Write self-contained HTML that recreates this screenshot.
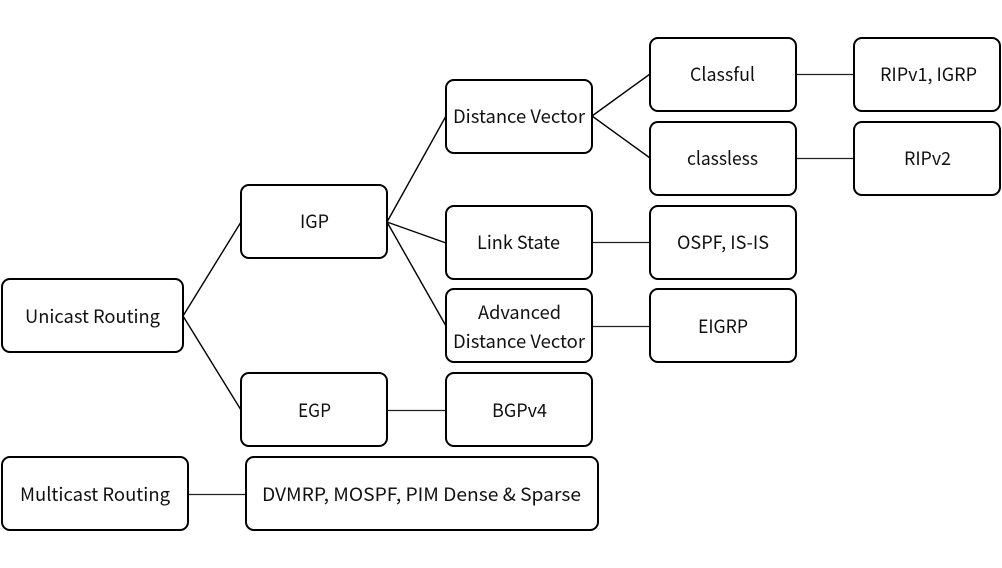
<!DOCTYPE html>
<html>
<head>
<meta charset="utf-8">
<style>
html,body{margin:0;padding:0;background:#fff;}
svg{display:block;}
text{font-family:"Noto Sans CJK KR","NanumGothic","Liberation Sans",sans-serif;font-size:18.500px;fill:#111;text-anchor:middle;}
rect{fill:#fff;stroke:#000;stroke-width:2;}
line{stroke:#000;stroke-width:1.4;}
line.h{stroke:#222;stroke-width:1.200;}
</style>
</head>
<body>
<svg width="1002" height="568" viewBox="0 0 1002 568" xmlns="http://www.w3.org/2000/svg">
<line x1="183" y1="316" x2="241" y2="222"/>
<line x1="183" y1="316" x2="241" y2="410"/>
<line x1="387" y1="222" x2="446" y2="116"/>
<line x1="387" y1="222" x2="446" y2="243"/>
<line x1="387" y1="222" x2="446" y2="326"/>
<line class="h" x1="387" y1="410.500" x2="446" y2="410.500"/>
<line x1="592" y1="116" x2="650" y2="74"/>
<line x1="592" y1="116" x2="650" y2="158"/>
<line class="h" x1="592" y1="242.500" x2="650" y2="242.500"/>
<line class="h" x1="592" y1="326.500" x2="650" y2="326.500"/>
<line class="h" x1="796" y1="74.500" x2="854" y2="74.500"/>
<line class="h" x1="796" y1="158.500" x2="854" y2="158.500"/>
<line class="h" x1="188" y1="494.500" x2="246" y2="494.500"/>

<rect x="2" y="279" width="181" height="73" rx="8"/>
<rect x="241" y="185" width="146" height="73" rx="8"/>
<rect x="241" y="373" width="146" height="73" rx="8"/>
<rect x="446" y="80" width="146" height="73" rx="8"/>
<rect x="446" y="206" width="146" height="73" rx="8"/>
<rect x="446" y="289" width="146" height="73" rx="8"/>
<rect x="446" y="373" width="146" height="73" rx="8"/>
<rect x="650" y="38" width="146" height="73" rx="8"/>
<rect x="650" y="122" width="146" height="73" rx="8"/>
<rect x="650" y="206" width="146" height="73" rx="8"/>
<rect x="650" y="289" width="146" height="73" rx="8"/>
<rect x="854" y="38" width="146" height="73" rx="8"/>
<rect x="854" y="122" width="146" height="73" rx="8"/>
<rect x="2" y="457" width="186" height="73" rx="8"/>
<rect x="246" y="457" width="352" height="73" rx="8"/>

<text x="92.500" y="323" textLength="135" lengthAdjust="spacingAndGlyphs">Unicast Routing</text>
<text x="314.500" y="228" textLength="29" lengthAdjust="spacingAndGlyphs">IGP</text>
<text x="314.500" y="417" textLength="33" lengthAdjust="spacingAndGlyphs">EGP</text>
<text x="519" y="123" textLength="132" lengthAdjust="spacingAndGlyphs">Distance Vector</text>
<text x="518.500" y="249" textLength="83" lengthAdjust="spacingAndGlyphs">Link State</text>
<text x="519.500" y="319" textLength="83" lengthAdjust="spacingAndGlyphs">Advanced</text>
<text x="519" y="348" textLength="132" lengthAdjust="spacingAndGlyphs">Distance Vector</text>
<text x="519.500" y="417" textLength="55" lengthAdjust="spacingAndGlyphs">BGPv4</text>
<text x="722.500" y="81" textLength="65" lengthAdjust="spacingAndGlyphs">Classful</text>
<text x="722.500" y="165" textLength="71" lengthAdjust="spacingAndGlyphs">classless</text>
<text x="723" y="249" textLength="92" lengthAdjust="spacingAndGlyphs">OSPF, IS-IS</text>
<text x="723" y="333" textLength="50" lengthAdjust="spacingAndGlyphs">EIGRP</text>
<text x="928.500" y="81" textLength="97" lengthAdjust="spacingAndGlyphs">RIPv1, IGRP</text>
<text x="927.500" y="165" textLength="47" lengthAdjust="spacingAndGlyphs">RIPv2</text>
<text x="95" y="501" textLength="150" lengthAdjust="spacingAndGlyphs">Multicast Routing</text>
<text x="421.500" y="501" textLength="319" lengthAdjust="spacingAndGlyphs">DVMRP, MOSPF, PIM Dense &amp; Sparse</text>
</svg>
</body>
</html>
